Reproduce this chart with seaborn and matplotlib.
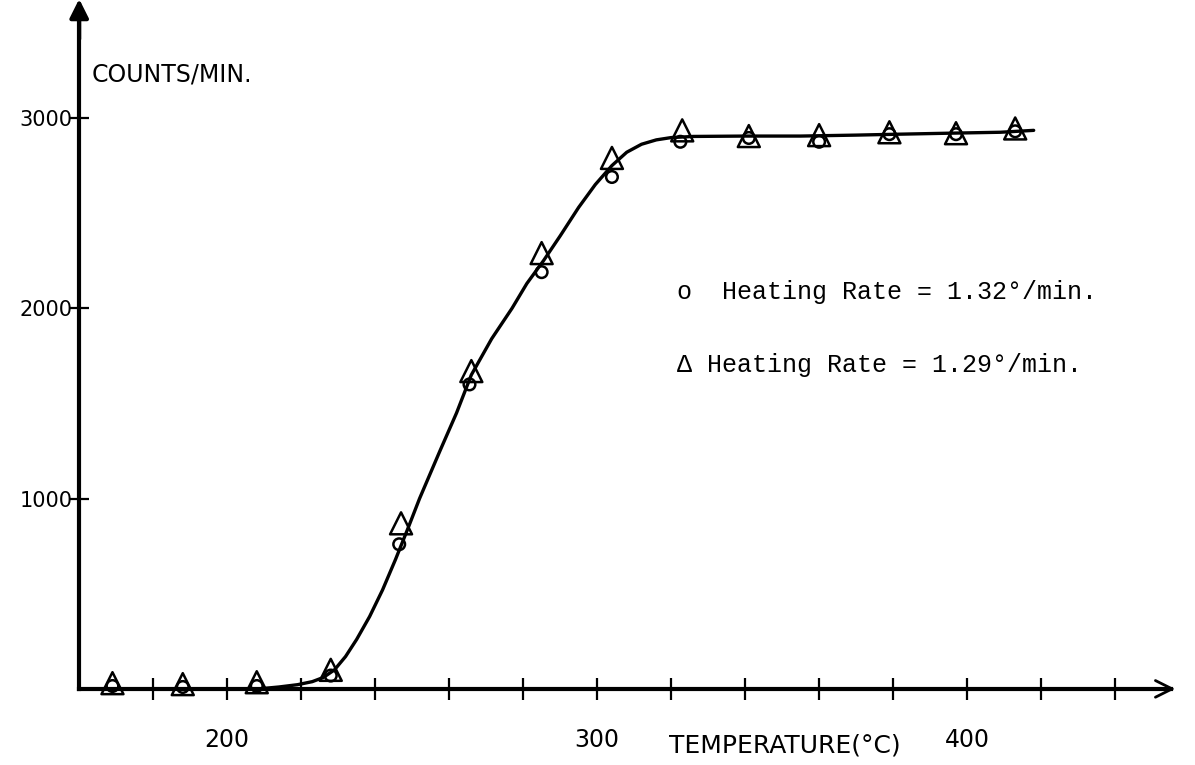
import numpy as np
import pandas as pd
import matplotlib
matplotlib.use("Agg")
import matplotlib.pyplot as plt
import seaborn as sns

# values
temp_tri = [169, 188, 208, 228, 247, 266, 285, 304, 323, 341, 360, 379, 397, 413]
counts_tri = [30, 25, 35, 100, 870, 1670, 2290, 2790, 2935, 2905, 2910, 2925, 2920, 2945]

temp_circ = [169, 188, 208, 228, 246.5, 265.5, 285, 304, 322.5, 341, 360, 379, 397, 413]
counts_circ = [15, 10, 15, 70, 760, 1600, 2190, 2690, 2875, 2895, 2875, 2915, 2915, 2930]

# hand drawn smooth curve through the points
curve_temp = [208.5, 214, 219, 223, 226, 229, 232, 235, 238.5, 242, 245.5, 249, 252,
              257.5, 262, 266, 271.5, 277, 281, 285.5, 290, 295, 299.5, 304, 308,
              312, 316, 320, 326, 340, 355, 370, 382, 395, 409, 418]
curve_counts = [0, 10, 22, 38, 60, 100, 170, 260, 380, 520, 680, 850, 1000,
                1250, 1450, 1650, 1840, 2000, 2130, 2250, 2380, 2530, 2650, 2750, 2820,
                2862, 2885, 2897, 2903, 2905, 2905, 2910, 2915, 2920, 2925, 2935]

x_minor = list(range(180, 441, 20))
x_labels = [200, 300, 400]
y_labels = [1000, 2000, 3000]

sns.set_theme(style="white")
plt.rcParams["font.family"] = ["DejaVu Sans"]
plt.rcParams["text.color"] = "black"

fig = plt.figure(figsize=(11.95, 7.65), dpi=100)
ax = fig.add_axes([0, 0, 1, 1])
ax.set_xlim(138.6, 461.6)
ax.set_ylim(-400, 3620)

tri = pd.DataFrame({"temp": temp_tri, "counts": counts_tri})
circ = pd.DataFrame({"temp": temp_circ, "counts": counts_circ})
curve = pd.DataFrame({"temp": curve_temp, "counts": curve_counts})

sns.lineplot(data=curve, x="temp", y="counts", color="black", linewidth=2.4,
             sort=False, ax=ax)
sns.scatterplot(data=circ, x="temp", y="counts", marker="o", s=70,
                facecolor="none", edgecolor="black", linewidth=1.8, ax=ax, zorder=4)
sns.scatterplot(data=tri, x="temp", y="counts", marker="^", s=250,
                facecolor="none", edgecolor="black", linewidth=1.8, ax=ax, zorder=5)

# axes drawn as arrows through the origin
for side in ["top", "right"]:
    ax.spines[side].set_visible(False)
ax.spines["left"].set_position(("data", 160))
ax.spines["bottom"].set_position(("data", 0))
ax.spines["left"].set_bounds(0, 3560)
ax.spines["bottom"].set_bounds(160, 455)
for side in ["left", "bottom"]:
    ax.spines[side].set_linewidth(3)
    ax.spines[side].set_color("black")

ax.annotate("", xy=(160, 3640), xytext=(160, 3400), annotation_clip=False,
            arrowprops=dict(arrowstyle="-|>", color="black", lw=3, mutation_scale=28))
ax.annotate("", xy=(457, 0), xytext=(440, 0), annotation_clip=False,
            arrowprops=dict(arrowstyle="->", color="black", lw=2, mutation_scale=30))

ax.set_yticks(y_labels)
ax.set_yticklabels([str(v) for v in y_labels], fontsize=15)
ax.set_xticks(x_minor)
ax.set_xticklabels([str(v) if v in x_labels else "" for v in x_minor], fontsize=17)
ax.tick_params(axis="y", left=True, direction="inout", length=14, width=1.6,
               pad=-2, colors="black")
ax.tick_params(axis="x", bottom=True, direction="inout", length=16, width=1.6,
               pad=20, colors="black")
ax.set_xlabel("")
ax.set_ylabel("")

ax.text(163.5, 3226, "COUNTS/MIN.", fontsize=17, ha="left", va="center")
ax.text(350.8, -300, "TEMPERATURE(°C)", fontsize=18, ha="center", va="center")

mono = ["Liberation Mono", "DejaVu Sans Mono"]
ax.text(321.6, 2086, "o  Heating Rate = 1.32°/min.", fontsize=18, family=mono,
        ha="left", va="center")
ax.text(321.6, 1703, "Δ Heating Rate = 1.29°/min.", fontsize=18, family=mono,
        ha="left", va="center")

plt.savefig("out.png", dpi=100)
